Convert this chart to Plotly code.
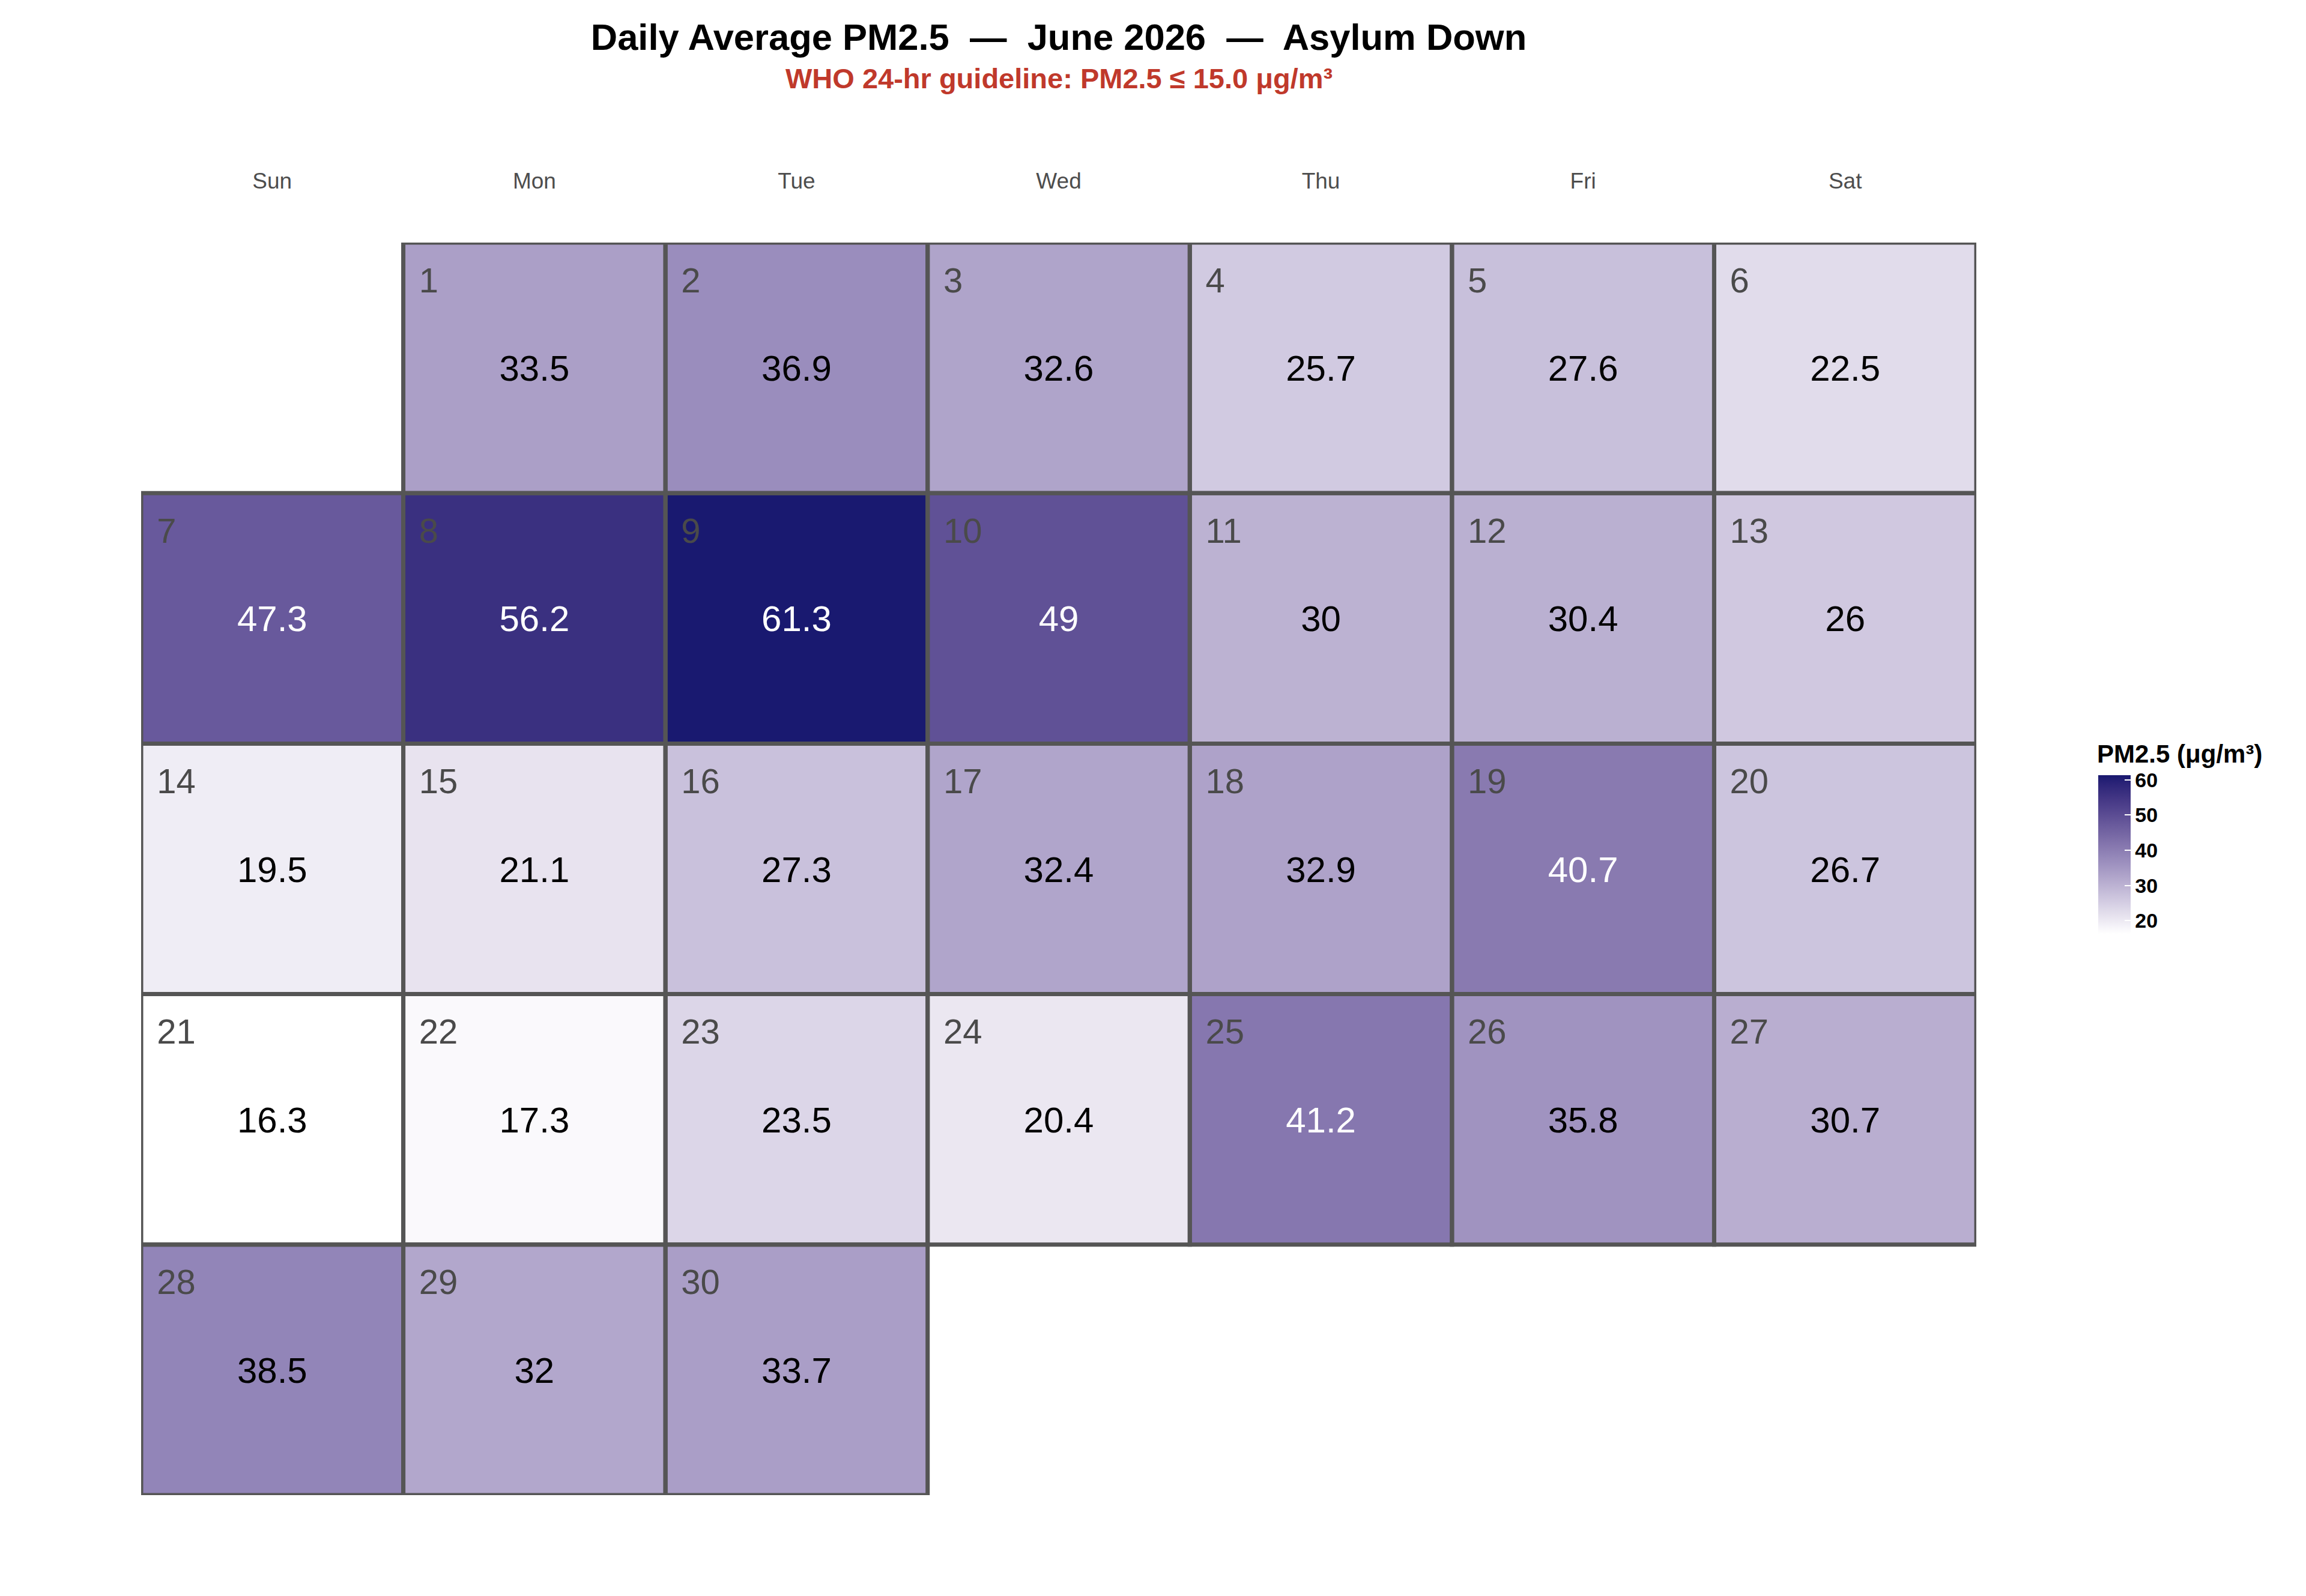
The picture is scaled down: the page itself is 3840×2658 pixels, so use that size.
import datetime
import plotly.graph_objects as go

# ---------------- data ----------------
year = 2026
month = 6
month_name = "June"
location = "Asylum Down"
days = list(range(1, 31))
pm25 = [33.5, 36.9, 32.6, 25.7, 27.6, 22.5,
        47.3, 56.2, 61.3, 49, 30, 30.4, 26,
        19.5, 21.1, 27.3, 32.4, 32.9, 40.7, 26.7,
        16.3, 17.3, 23.5, 20.4, 41.2, 35.8, 30.7,
        38.5, 32, 33.7]
weekday_labels = ["Sun", "Mon", "Tue", "Wed", "Thu", "Fri", "Sat"]
who_guideline = 15.0
colorbar_ticks = [20, 30, 40, 50, 60]
white_text_threshold = 40

# ---------------- colour scale (Lab interpolation white -> midnightblue) ----------------
def _lin(c):
    c = c / 255.0
    return c / 12.92 if c <= 0.04045 else ((c + 0.055) / 1.055) ** 2.4

def _gam(c):
    c = 12.92 * c if c <= 0.0031308 else 1.055 * c ** (1 / 2.4) - 0.055
    return max(0, min(255, round(c * 255)))

_WN = (0.95047, 1.0, 1.08883)

def _f(t):
    d = 6 / 29
    return t ** (1 / 3) if t > d ** 3 else t / (3 * d * d) + 4 / 29

def _finv(t):
    d = 6 / 29
    return t ** 3 if t > d else 3 * d * d * (t - 4 / 29)

def rgb_to_lab(rgb):
    r, g, b = (_lin(v) for v in rgb)
    X = 0.4124 * r + 0.3576 * g + 0.1805 * b
    Y = 0.2126 * r + 0.7152 * g + 0.0722 * b
    Z = 0.0193 * r + 0.1192 * g + 0.9505 * b
    fx, fy, fz = _f(X / _WN[0]), _f(Y / _WN[1]), _f(Z / _WN[2])
    return (116 * fy - 16, 500 * (fx - fy), 200 * (fy - fz))

def lab_to_rgb(lab):
    L, a, b = lab
    fy = (L + 16) / 116
    fx = fy + a / 500
    fz = fy - b / 200
    X, Y, Z = _WN[0] * _finv(fx), _WN[1] * _finv(fy), _WN[2] * _finv(fz)
    r = 3.2406 * X - 1.5372 * Y - 0.4986 * Z
    g = -0.9689 * X + 1.8758 * Y + 0.0415 * Z
    bb = 0.0557 * X - 0.2040 * Y + 1.0570 * Z
    return tuple(_gam(max(0, v)) for v in (r, g, bb))

low_rgb = (255, 255, 255)
high_rgb = (25, 25, 112)
lab_lo, lab_hi = rgb_to_lab(low_rgb), rgb_to_lab(high_rgb)
colorscale = []
nstops = 21
for i in range(nstops):
    t = i / (nstops - 1)
    lab = tuple(lo + (hi - lo) * t for lo, hi in zip(lab_lo, lab_hi))
    r, g, b = lab_to_rgb(lab)
    colorscale.append([t, f"rgb({r},{g},{b})"])

# ---------------- calendar layout ----------------
offset = (datetime.date(year, month, 1).weekday() + 1) % 7  # Sunday = 0
cols = [(offset + d - 1) % 7 for d in days]
rows = [(offset + d - 1) // 7 for d in days]
nrows = max(rows) + 1

z = [[None] * 7 for _ in range(nrows)]
for c, r, v in zip(cols, rows, pm25):
    z[r][c] = v

vmin, vmax = min(pm25), max(pm25)

# figure geometry (page body has an 8px margin)
W, H = 3824, 2642
ML, MR, MT, MB = 227, 541, 396, 160
PW, PH = W - ML - MR, H - MT - MB

def px_to_paper_x(px):
    return (px - 8 - ML) / PW

def px_to_paper_y(py):
    return (H - MB - (py - 8)) / PH

def px_to_container_y(py):
    return 1 - (py - 8) / H

fig = go.Figure()
fig.add_trace(go.Heatmap(
    x=list(range(7)), y=list(range(nrows)), z=z,
    colorscale=colorscale, zmin=vmin, zmax=vmax,
    hoverinfo="skip", showscale=True,
    colorbar=dict(
        tickvals=colorbar_ticks,
        ticktext=[f"<b>{t}</b>" for t in colorbar_ticks],
        tickfont=dict(size=34, color="#000000"),
        ticks="inside", ticklen=10, tickcolor="white", tickwidth=2,
        thickness=54, thicknessmode="pixels", len=264, lenmode="pixels",
        x=px_to_paper_x(3494), xref="paper", xanchor="left", xpad=0,
        y=px_to_paper_y(1291), yref="paper", yanchor="top", ypad=0,
        outlinewidth=0,
    ),
))

# cell borders
for c, r in zip(cols, rows):
    fig.add_shape(type="rect", xref="x", yref="y",
                  x0=c - 0.5, x1=c + 0.5, y0=r - 0.5, y1=r + 0.5,
                  line=dict(color="#555555", width=7), layer="above")

# values
fig.add_trace(go.Scatter(
    x=cols, y=[r + 0.016 for r in rows], mode="text",
    text=[f"{v:g}" for v in pm25],
    textposition="middle center",
    textfont=dict(size=60, color=["#ffffff" if v > white_text_threshold else "#000000" for v in pm25]),
    hoverinfo="skip", showlegend=False, cliponaxis=False,
))

# day numbers
fig.add_trace(go.Scatter(
    x=[c - 0.5 + 0.06 for c in cols], y=[r - 0.5 + 0.163 for r in rows], mode="text",
    text=[str(d) for d in days],
    textposition="middle right",
    textfont=dict(size=58, color="#4a4a4a"),
    hoverinfo="skip", showlegend=False, cliponaxis=False,
))

fig.update_layout(
    width=W, height=H,
    margin=dict(l=ML, r=MR, t=MT, b=MB, pad=0),
    paper_bgcolor="white", plot_bgcolor="white",
    font=dict(family="Liberation Sans, Arial, sans-serif", color="#000000"),
    showlegend=False,
    title=dict(
        text=f"<b>Daily Average PM2.5  —  {month_name} {year}  —  {location}</b>",
        font=dict(size=61.5, color="#000000"),
        x=0.5, xref="paper", xanchor="center",
        y=px_to_container_y(61), yref="container", yanchor="middle",
    ),
    xaxis=dict(
        range=[-0.5, 6.5], side="top", tickvals=list(range(7)), ticktext=weekday_labels,
        tickfont=dict(size=37, color="#4d4d4d"), ticks="", showgrid=False,
        zeroline=False, showline=False, ticklabelstandoff=82, fixedrange=True,
    ),
    yaxis=dict(
        range=[nrows - 0.5, -0.5], showticklabels=False, ticks="", showgrid=False,
        zeroline=False, showline=False, fixedrange=True,
    ),
    annotations=[
        dict(
            text=f"<b>WHO 24-hr guideline: PM2.5 ≤ {who_guideline:.1f} μg/m³</b>",
            x=0.5, xref="paper", xanchor="center",
            y=px_to_paper_y(130), yref="paper", yanchor="middle",
            showarrow=False, font=dict(size=47, color="#c0392b"),
        ),
        dict(
            text="<b>PM2.5 (μg/m³)</b>",
            x=px_to_paper_x(3494), xref="paper", xanchor="left",
            y=px_to_paper_y(1255), yref="paper", yanchor="middle",
            showarrow=False, font=dict(size=42, color="#000000"), xshift=-4,
        ),
    ],
)

fig.write_html("out.html")
